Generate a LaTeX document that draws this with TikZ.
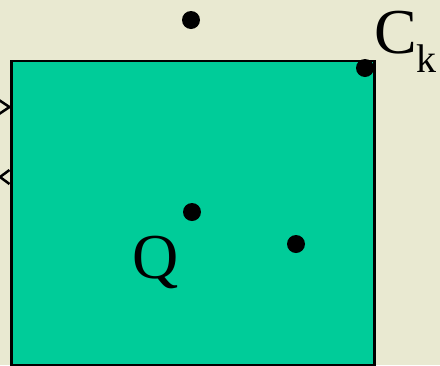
\documentclass[tikz,border=0pt]{standalone}
\usepackage{fontspec}
\setmainfont{Liberation Serif}
\definecolor{bg}{HTML}{E9E9D1}
\definecolor{box}{HTML}{00CC99}
\begin{document}
\begin{tikzpicture}[x=1pt,y=-1pt,
  dot/.style={circle,fill=black,inner sep=0pt,minimum size=18pt},
  lbl/.style={inner sep=0pt,anchor=base,font=\fontsize{64}{64}\selectfont}]
\fill[bg] (0,0) rectangle (440,365);
\useasboundingbox (0,0) rectangle (440,365);
\node[draw=black,line width=2.5pt,fill=box,minimum width=363pt,minimum height=304pt,inner sep=0pt,anchor=north west] (R) at (10,59.5) {};
\node[dot] (d1) at (191,20) {};
\node[dot] (d2) at (365,68) {};
\node[dot] (d3) at (192,212) {};
\node[dot] (d4) at (296,244) {};
\node[lbl] (Q) at (156,278) {Q};
\node[lbl,anchor=base west] (C) at (374,53) {C\textsubscript{\fontsize{40}{40}\selectfont k}};
\draw[line width=2.5pt] (-1,100) -- (9.5,107) -- (-1,114);
\draw[line width=2.5pt] (9.5,170) -- (0,177) -- (9.5,184);
\end{tikzpicture}
\end{document}
